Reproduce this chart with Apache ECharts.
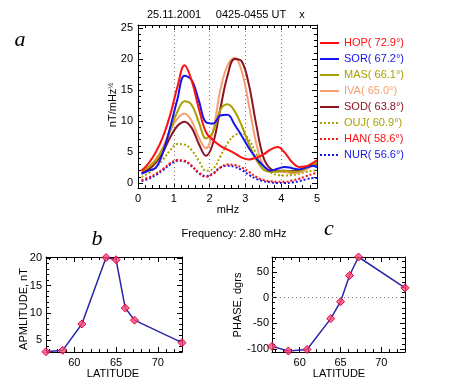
<!DOCTYPE html>
<html><head><meta charset="utf-8">
<script src="https://cdn.jsdelivr.net/npm/echarts@6/dist/echarts.min.js"></script>
<style>html,body{margin:0;padding:0;background:#fff}#c{width:449px;height:388px}</style>
</head><body><div id="c"></div>
<script>
// ---------- data: panel a (spectra) ----------
const freq = [0.1,0.3,0.5,0.7,0.9,1.1,1.3,1.5,1.7,1.9,2.1,2.3,2.5,2.7,2.9,3.1,3.3,3.5,3.7,3.9,4.1,4.3,4.5,4.7,4.9,5.0];
const stationNames = ['HOP( 72.9°)','SOR( 67.2°)','MAS( 66.1°)','IVA( 65.0°)','SOD( 63.8°)','OUJ( 60.9°)','HAN( 58.6°)','NUR( 56.6°)'];
const HOP = [2.0,3.2,5.0,7.5,11.0,15.5,19.0,16.5,12.0,8.2,6.9,6.0,5.4,4.8,4.1,3.8,4.1,4.6,5.4,5.8,4.9,3.4,2.6,2.7,3.3,3.7];
const SOR = [1.5,2.0,2.5,5.0,9.0,13.5,17.3,16.6,13.3,9.8,9.6,10.9,11.0,9.4,7.6,5.6,4.0,2.8,2.0,2.3,2.6,2.4,2.2,2.5,2.8,2.5];
const MAS = [2.0,2.6,3.6,5.6,8.5,11.5,13.2,12.6,9.8,7.2,8.3,11.8,12.7,11.6,9.2,6.3,3.8,2.2,1.8,1.9,2.0,1.8,1.9,2.4,3.0,3.3];
const IVA = [1.8,2.6,3.9,5.8,8.4,10.4,11.2,10.0,7.3,5.6,8.6,15.0,19.0,20.2,18.0,12.5,6.5,2.8,1.9,1.8,1.8,1.6,1.7,2.2,2.9,3.2];
const SOD = [1.6,2.2,3.3,5.0,7.4,9.2,9.9,8.9,6.3,4.4,6.5,12.0,17.3,20.0,19.6,15.8,9.5,4.2,2.3,2.0,2.0,1.9,2.1,2.5,2.9,3.0];
const OUJ = [1.0,1.6,2.5,3.8,5.3,6.3,6.2,5.3,3.6,2.0,2.3,4.3,6.4,7.7,8.0,7.0,4.8,2.7,1.7,1.3,1.2,1.3,1.5,1.8,2.0,2.1];
const HAN = [0.5,0.9,1.5,2.3,3.2,3.7,3.6,2.8,1.7,1.0,1.5,2.5,3.0,2.9,2.5,1.8,1.0,0.5,0.3,0.2,0.2,0.4,0.7,1.1,1.5,1.6];
const NUR = [0.3,0.7,1.3,2.1,3.0,3.6,3.5,2.7,1.6,1.1,1.6,2.5,2.8,2.6,2.1,1.3,0.7,0.3,0.1,0.0,0.0,0.1,0.3,0.6,0.8,0.8];
const dottedFreqLines = [1,2,3,4];
// ---------- data: panels b, c ----------
const latitude = [56.6,58.6,60.9,63.8,65.0,66.1,67.2,72.9];
const amplitude = [2.95,3.2,8.0,20.1,19.7,10.9,8.7,4.6];
const phase = [-95,-104,-101,-41,-8,43,79,19];
// ---------- tick labels ----------
const xTicksA = [0,1,2,3,4,5];
const yTicksA = [0,5,10,15,20,25];
const latTicks = [60,65,70];
const ampTicks = [5,10,15,20];
const phaseTicks = [-100,-50,0,50];

const FONT = 'Liberation Sans';
const colors = ['#ff1010','#1414ee','#aaa000','#f5a070','#8a1424','#aaa000','#ff1010','#1414ee'];
const styles = ['solid','solid','solid','solid','solid','dotted','dotted','dotted'];
const seriesData = [HOP,SOR,MAS,IVA,SOD,OUJ,HAN,NUR];

function range(a,b,s){const r=[];for(let v=a;v<=b+1e-9;v+=s)r.push(Math.round(v*1000)/1000);return r;}

function axes(dim, grid, min, max, majors, minors, labelOpts) {
  const pos = dim==='x' ? ['bottom','top'] : ['left','right'];
  const list = [];
  pos.forEach((p, pi) => {
    [majors, minors].forEach((vals, vi) => {
      list.push({
        type:'value', gridIndex:grid, position:p, min:min, max:max,
        axisLine:{show: vi===0, onZero:false, lineStyle:{color:'#000', width:1}},
        axisTick:{show:true, inside:true, length: vi===0?5:3, customValues: vals, lineStyle:{color:'#000', width:1}},
        axisLabel: (pi===0 && vi===0) ? Object.assign({show:true, customValues: vals, showMinLabel:true, showMaxLabel:true, hideOverlap:false, color:'#000', fontFamily:FONT, fontSize:11}, labelOpts||{}) : {show:false},
        splitLine:{show:false}, minorTick:{show:false}, minorSplitLine:{show:false}, axisPointer:{show:false}
      });
    });
  });
  return list;
}

const xAxes = [].concat(
  axes('x',0,0,5,xTicksA,range(0,5,0.2),{margin:5}),
  axes('x',1,56.6,72.9,latTicks,range(57,72,1),{margin:5}),
  axes('x',2,56.6,72.9,latTicks,range(57,72,1),{margin:5})
);
const yAxes = [].concat(
  axes('y',0,-0.8,25.5,yTicksA,range(0,25,1),{margin:5}),
  axes('y',1,2.9,20.2,ampTicks,range(3,20,1),{margin:4}),
  axes('y',2,-106,79,phaseTicks,range(-100,70,10),{margin:3})
);

const series = [];
const order = [7,6,5,3,4,2,1,0];
order.forEach(i => {
  const s = {
    name: stationNames[i], type:'line', xAxisIndex:0, yAxisIndex:0,
    data: freq.map((f,k)=>[f, seriesData[i][k]]),
    smooth: 0.4, symbol:'none', showSymbol:false,
    lineStyle:{color:colors[i], width:2, type:styles[i]},
    itemStyle:{color:colors[i]}, z: 2+order.indexOf(i)
  };
  if (i===0) {
    s.markLine = {silent:true, symbol:['none','none'], label:{show:false},
      lineStyle:{type:[1,3], color:'#777', width:1},
      data: dottedFreqLines.map(v=>({xAxis:v}))};
  }
  series.push(s);
});
const markerStyle = {color:'rgba(255,70,110,0.75)', borderColor:'#e0003a', borderWidth:1};
series.push({
  type:'line', xAxisIndex:4, yAxisIndex:4,
  data: latitude.map((l,k)=>[l, amplitude[k]]),
  symbol:'diamond', symbolSize:8,
  lineStyle:{color:'#2828a8', width:1.5},
  itemStyle:markerStyle
});
series.push({
  type:'line', xAxisIndex:8, yAxisIndex:8,
  data: latitude.map((l,k)=>[l, phase[k]]),
  symbol:'diamond', symbolSize:8,
  lineStyle:{color:'#2828a8', width:1.5},
  itemStyle:markerStyle,
  markLine:{silent:true, symbol:['none','none'], label:{show:false},
    lineStyle:{type:[1,3], color:'#777', width:1}, data:[{yAxis:0}]}
});

function txt(x,y,text,opts){
  return {type:'text', x:x, y:y, rotation:(opts&&opts.rot)||0, silent:true,
    style:Object.assign({text:text, fill:'#000', font:'11px "Liberation Sans"', align:'center', verticalAlign:'middle'}, (opts&&opts.style)||{})};
}

const option = {
  animation:false,
  backgroundColor:'#fff',
  grid:[
    {left:138, top:25, width:179, height:163},
    {left:46, top:257, width:136, height:95},
    {left:272, top:257, width:133, height:95}
  ],
  xAxis: xAxes,
  yAxis: yAxes,
  legend:{
    left:319, top:37, orient:'vertical', padding:0,
    itemWidth:19, itemHeight:12, itemGap:4,
    itemStyle:{opacity:0, borderWidth:0},
    data: stationNames.map((n,i)=>({name:n, textStyle:{color:colors[i]}})),
    textStyle:{fontFamily:FONT, fontSize:11, lineHeight:12}
  },
  series: series,
  graphic:[
    txt(174,15,'25.11.2001'),
    txt(251,15,'0425-0455 UT'),
    txt(302,15,'x'),
    txt(20,40,'a',{style:{font:'italic 22px "Liberation Serif"'}}),
    {type:'text', x:113, y:105, rotation:Math.PI/2, silent:true,
      style:{text:'{m|nT/mHz}{s|½}', align:'center', verticalAlign:'middle',
        rich:{m:{fontFamily:FONT, fontSize:11, fill:'#000'}, s:{fontFamily:FONT, fontSize:7, fill:'#000', verticalAlign:'top'}}}},
    txt(228,210,'mHz'),
    txt(234,234,'Frequency: 2.80 mHz'),
    txt(97,239,'b',{style:{font:'italic 22px "Liberation Serif"'}}),
    txt(329,229,'c',{style:{font:'italic 22px "Liberation Serif"'}}),
    txt(24,309,'APMLITUDE, nT',{rot:Math.PI/2}),
    txt(113,374,'LATITUDE'),
    txt(238,305,'PHASE, dgrs',{rot:Math.PI/2}),
    txt(339,374,'LATITUDE')
  ]
};
const chart = echarts.init(document.getElementById('c'), null, {renderer:'canvas'});
chart.setOption(option);
</script></body></html>
